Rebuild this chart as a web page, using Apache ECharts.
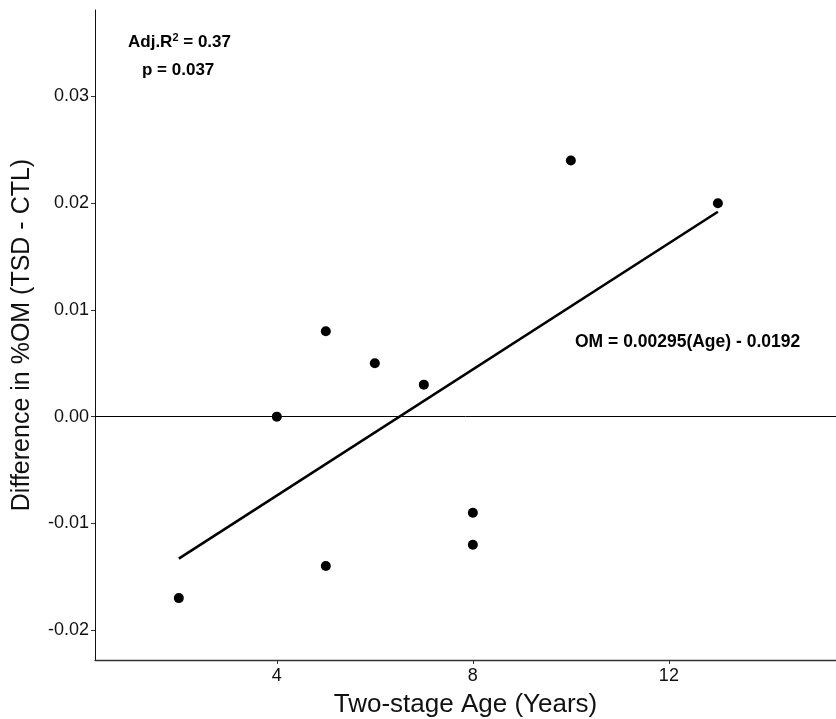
<!DOCTYPE html>
<html>
<head>
<meta charset="utf-8">
<script src="https://cdn.jsdelivr.net/npm/echarts@6/dist/echarts.min.js"></script>
<style>html,body{margin:0;padding:0;background:#fff;}#c{width:836px;height:719px;}</style>
</head>
<body>
<div id="c"></div>
<script>
const ageYears = [2, 4, 5, 5, 6, 7, 8, 8, 10, 13];
const omDiff = [-0.017, 0.000, 0.008, -0.014, 0.005, 0.003, -0.009, -0.012, 0.024, 0.020];
const fitX = [2, 13];
const fitY = [-0.0133, 0.0192];
const xTicks = [4, 8, 12];
const yTicks = [-0.02, -0.01, 0.00, 0.01, 0.02, 0.03];

const font = 'Liberation Sans, Arial, sans-serif';
const chart = echarts.init(document.getElementById('c'));
chart.setOption({
  animation: false,
  backgroundColor: '#fff',
  grid: { left: 95, right: 0, top: 10, bottom: 59, containLabel: false, outerBoundsMode: 'none' },
  xAxis: {
    type: 'value', min: 0.29, max: 15.41,
    name: 'Two-stage Age (Years)', nameLocation: 'middle', nameGap: 32,
    nameTextStyle: { fontFamily: font, fontSize: 26, color: '#111', verticalAlign: 'top' },
    axisLine: { show: true, onZero: false, lineStyle: { color: '#333', width: 1.3 } },
    axisTick: { show: true, length: 4, customValues: xTicks, lineStyle: { color: '#333' } },
    axisLabel: { customValues: xTicks, fontFamily: font, fontSize: 18, color: '#111', margin: 7 },
    splitLine: { show: false }
  },
  yAxis: {
    type: 'value', min: -0.0228, max: 0.0381,
    name: 'Difference in %OM (TSD - CTL)', nameLocation: 'middle', nameGap: 60,
    nameTextStyle: { fontFamily: font, fontSize: 25, color: '#111' },
    axisLine: { show: true, onZero: false, lineStyle: { color: '#111', width: 1 } },
    axisTick: { show: true, length: 4, customValues: yTicks, lineStyle: { color: '#333' } },
    axisLabel: { customValues: yTicks, fontFamily: font, fontSize: 18, color: '#111', margin: 6,
      formatter: v => v.toFixed(2) },
    splitLine: { show: false }
  },
  series: [
    {
      type: 'line', data: fitX.map((x, i) => [x, fitY[i]]),
      showSymbol: false, symbol: 'none',
      lineStyle: { color: '#000', width: 2.6 },
      markLine: {
        silent: true, symbol: 'none', label: { show: false },
        lineStyle: { color: '#000', width: 1, type: 'solid' },
        data: [{ yAxis: 0 }]
      },
      z: 2
    },
    {
      type: 'scatter', data: ageYears.map((x, i) => [x, omDiff[i]]),
      symbolSize: 10, itemStyle: { color: '#000', opacity: 1 }, z: 3
    }
  ],
  graphic: [
    { type: 'text', left: 128, top: 32, style: {
      rich: { a: { fontFamily: font, fontSize: 17, fontWeight: 'bold', fill: '#000' },
              s: { fontFamily: font, fontSize: 11, fontWeight: 'bold', fill: '#000', verticalAlign: 'top', padding: [0,0,9,0] } },
      text: '{a|Adj.R}{s|2}{a| = 0.37}' } },
    { type: 'text', left: 142, top: 62, style: { text: 'p = 0.037', fontFamily: font, fontSize: 17, fontWeight: 'bold', fill: '#000' } },
    { type: 'text', left: 575, top: 333, style: { text: 'OM = 0.00295(Age) - 0.0192', fontFamily: font, fontSize: 17.5, fontWeight: 'bold', fill: '#000' } }
  ]
});
</script>
</body>
</html>
